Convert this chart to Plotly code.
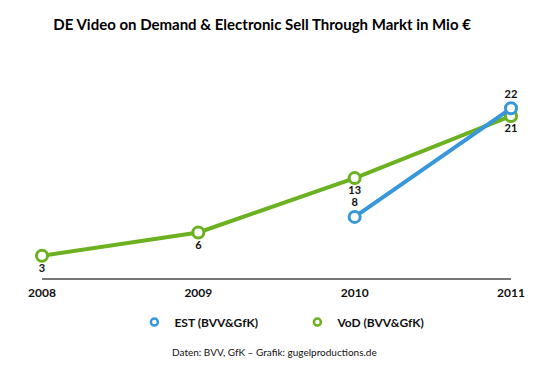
import plotly.graph_objects as go

years = [2008, 2009, 2010, 2011]
vod_values = [3, 6, 13, 21]
est_years = [2010, 2011]
est_values = [8, 22]
tick_labels = ["2008", "2009", "2010", "2011"]

GREEN = "#6cb120"
BLUE = "#3896da"
FONT = "Lato"

fig = go.Figure()

fig.add_trace(go.Scatter(
    x=years, y=vod_values, mode="lines+markers+text",
    line=dict(color=GREEN, width=4),
    marker=dict(symbol="circle", size=11, color="white", line=dict(color=GREEN, width=3)),
    text=["<b>%d</b>" % v for v in vod_values], textposition="bottom center",
    textfont=dict(family=FONT, size=11, color="#111"),
    cliponaxis=False, showlegend=False, name="VoD (BVV&GfK)"))

fig.add_trace(go.Scatter(
    x=est_years, y=est_values, mode="lines+markers+text",
    line=dict(color=BLUE, width=4),
    marker=dict(symbol="circle", size=11, color="white", line=dict(color=BLUE, width=3)),
    text=["<b>%d</b>" % v for v in est_values], textposition="top center",
    textfont=dict(family=FONT, size=11, color="#111"),
    cliponaxis=False, showlegend=False, name="EST (BVV&GfK)"))

# legend-only entries (marker only)
fig.add_trace(go.Scatter(x=[None], y=[None], mode="markers", name="<b>EST (BVV&GfK)</b>",
    marker=dict(symbol="circle", size=7, color="white", line=dict(color=BLUE, width=2.5))))
fig.add_trace(go.Scatter(x=[None], y=[None], mode="markers", name="<b>VoD (BVV&GfK)</b>",
    marker=dict(symbol="circle", size=7, color="white", line=dict(color=GREEN, width=2.5))))

fig.update_layout(
    width=550, height=365,
    margin=dict(l=34, r=47, t=77, b=94),
    paper_bgcolor="white", plot_bgcolor="white",
    font=dict(family=FONT, color="#111"),
    title=dict(text="<b>DE Video on Demand & Electronic Sell Through Markt in Mio €</b>",
               x=0.462, xanchor="center", y=0.953, yanchor="middle",
               font=dict(family=FONT, size=15, color="#000")),
    xaxis=dict(range=[2008, 2011], tickvals=years, ticktext=["<b>%s</b>" % t for t in tick_labels],
               showgrid=False, zeroline=False, showline=False, ticks="", ticklabelstandoff=5,
               tickfont=dict(family=FONT, size=12, color="#111")),
    yaxis=dict(range=[0, 25], showgrid=False, zeroline=True, zerolinecolor="#777",
               zerolinewidth=2, showticklabels=False, showline=False),
    legend=dict(orientation="h", x=0.197, xanchor="left", y=-0.222, yanchor="middle",
                font=dict(family=FONT, size=12, color="#111"), entrywidth=118,
                itemwidth=30, traceorder="normal"),
    annotations=[dict(text="Daten: BVV, GfK – Grafik: gugelproductions.de",
                      xref="paper", yref="paper", x=0.495, y=-0.376, xanchor="center",
                      yanchor="middle", showarrow=False,
                      font=dict(family=FONT, size=10, color="#111"))],
)

fig.write_html("out.html")
